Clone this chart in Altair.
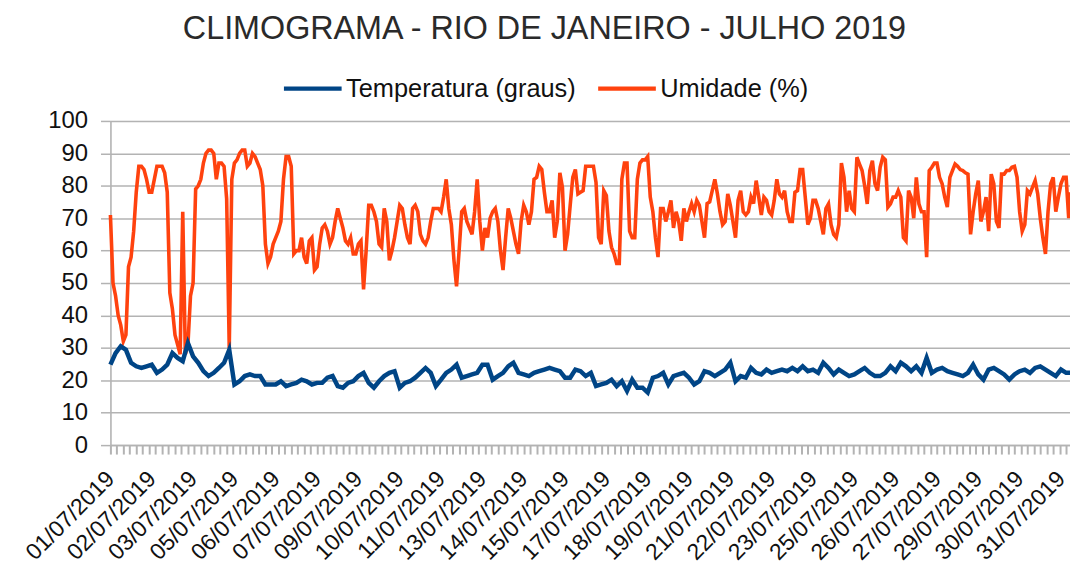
import json
import altair as alt
import pandas as pd

# hour indices (categories) of the sampled readings, July 2019 hourly series
horas_temperatura = list(range(0, 744, 4)) + [743]
horas_umidade = list(range(0, 744, 2)) + [743]

temperatura = [
    24.8, 28.4, 30.5, 29.4, 25.4, 24.3, 23.8, 24.3, 24.8, 22.3, 23.3, 24.8, 28.4, 26.9, 25.9, 31.5,
    27.4, 25.4, 22.8, 21.3, 22.3, 23.8, 25.4, 29.4, 18.7, 19.7, 21.3, 21.8, 21.3, 21.3, 18.7, 18.7,
    18.7, 19.7, 18.2, 18.7, 19.2, 20.2, 19.7, 18.7, 19.2, 19.2, 20.8, 21.3, 18.2, 17.7, 19.2,
    19.7, 21.3, 22.3, 19.2, 17.7, 19.7, 21.3, 22.3, 22.8, 17.7, 19.2, 19.7, 20.8, 22.3, 23.8, 22.3,
    18.2, 20.2, 22.3, 23.3, 24.8, 20.8, 21.3, 21.8, 22.3, 24.8, 24.8, 20.2, 21.3, 22.3, 24.3, 25.4,
    22.3, 21.8, 21.3, 22.3, 22.8, 23.3, 23.8, 23.3, 22.8, 20.8, 20.8, 23.3, 22.8, 21.3,
    22.3, 18.2, 18.7, 19.2, 20.2, 18.2, 19.7, 16.7, 20.2, 17.7, 17.7, 16.2, 20.8, 21.3, 22.3, 18.7,
    21.3, 21.8, 22.3, 20.8, 18.7, 19.7, 22.8, 22.3, 21.3, 22.3, 23.3, 25.4, 19.7, 21.3, 20.8, 23.8,
    22.3, 21.8, 23.3, 22.3, 22.8, 23.3, 22.8, 23.8, 22.8, 24.3, 22.8, 23.3, 22.3, 25.4,
    23.8, 21.8, 23.3, 22.3, 21.3, 21.8, 22.8, 23.8, 22.3, 21.3, 21.3, 22.3, 24.3, 22.8, 25.4, 24.3,
    22.8, 24.3, 22.3, 26.9, 22.3, 23.3, 23.8, 22.8, 22.3, 21.8, 21.3, 22.3, 24.8, 21.8, 20.2, 23.3,
    23.8, 22.8, 21.8, 20.2, 21.8, 22.8, 23.3, 22.3, 23.8, 24.3, 23.3, 22.3, 21.3, 23.3, 22.3,
    22.3,
]

umidade = [
    71, 50, 46, 40, 37, 32, 34, 55, 58, 66,
    78, 86, 86, 85, 82, 78, 78, 82, 86, 86,
    86, 84, 78, 47, 42, 34, 31, 28, 72, 28,
    31, 46, 50, 79, 80, 82, 87, 90, 91, 91,
    90, 82, 87, 87, 86, 76, 30, 82, 87, 88,
    90, 91, 91, 86, 87, 90, 89, 87, 85, 80,
    62, 56, 58, 62, 64, 66, 69, 82, 89, 89,
    86, 59, 60, 60, 64, 58, 56, 63, 64, 54,
    55, 62, 67, 68, 66, 62, 64, 69, 73, 70,
    67, 63, 62, 64, 59, 59, 62, 63, 48, 60,
    74, 74, 72, 69, 62, 61, 73, 69, 57, 60,
    64, 69, 74, 73, 68, 64, 62, 73, 74, 72,
    65, 63, 62, 64, 69, 73, 73, 73, 72, 76.5,
    82, 73, 68, 57, 49, 60, 72, 73, 69, 67,
    65, 72, 82, 69, 60, 67, 64, 70, 72, 73,
    69, 60, 54, 64, 73, 70, 66, 62, 59, 69,
    74, 72, 68, 72, 82, 82.6, 86, 85, 78, 72,
    72, 75.5, 64, 69, 84, 79.5, 60, 65, 74, 82.6,
    85, 77.5, 78, 78.5, 86, 86, 86, 86, 81, 64,
    62, 78.5, 77, 66, 61, 59, 56, 56, 82, 87,
    87, 66, 64, 64, 82, 87, 88, 88, 89, 76.5,
    72, 64, 58, 73, 73, 69, 72, 75.5, 67, 72,
    69, 63, 73, 69, 72, 74.5, 72, 75.5, 74, 69,
    64, 74.5, 75, 78.5, 82, 77.5, 72, 68, 69, 77.5,
    74, 69, 64, 75.5, 78.5, 72, 71, 72, 76.5, 74.5,
    81.6, 76.5, 71, 76.5, 75.5, 72, 71, 75.5, 82, 77.5,
    76.5, 78.5, 72, 69, 69, 78, 78.5, 85, 85, 76.5,
    68, 70, 75.5, 75.5, 73, 69, 65, 73, 74.4, 68,
    65, 64, 68, 87, 82.6, 72, 78.5, 73, 72, 88.8,
    86.7, 84.7, 80, 74.4, 84.7, 87.7, 80.6, 78.5, 85.7, 88.8,
    88, 73.4, 74.4, 76.5, 76.5, 78.5, 76.5, 64, 63, 78.5,
    76.5, 70, 82.6, 74.4, 72, 72, 58, 84.7, 85.7, 87,
    87, 82.6, 80.6, 76.5, 73.4, 82.6, 84.7, 86.7, 86, 85,
    84.7, 84, 83.6, 65, 72, 77.5, 81.6, 69, 72, 76.5,
    66, 83.6, 80.6, 69, 67, 83.6, 83.6, 84.7, 84.7, 85.7,
    86, 82.6, 72, 66, 68, 78.5, 77.5, 79.6, 81.6, 77.5,
    70, 64, 59, 72, 80.6, 82.6, 72, 76.5, 80.6, 82.6,
    82.6, 70,
    78,
]

series = ["Temperatura (graus)", "Umidade (%)"]
cores = ["#004586", "#ff420e"]

rotulos_datas = [
    "01/07/2019", "02/07/2019", "03/07/2019", "05/07/2019", "06/07/2019", "07/07/2019",
    "09/07/2019", "10/07/2019", "11/07/2019", "13/07/2019", "14/07/2019", "15/07/2019",
    "17/07/2019", "18/07/2019", "19/07/2019", "21/07/2019", "22/07/2019", "23/07/2019",
    "25/07/2019", "26/07/2019", "27/07/2019", "29/07/2019", "30/07/2019", "31/07/2019",
]
intervalo_rotulos = 32
horas_rotulos = [intervalo_rotulos * i for i in range(len(rotulos_datas))]
horas_ticks = list(range(0, 744, 5))
valores_y = list(range(0, 101, 10))

df_t = pd.DataFrame({"h": horas_temperatura, "valor": temperatura, "serie": series[0]})
df_u = pd.DataFrame({"h": horas_umidade, "valor": umidade, "serie": series[1]})

FONTE = "Liberation Sans"
CINZA = "#b3b3b3"

escala_x = alt.Scale(domain=[0, 743], nice=False, zero=False)
escala_y = alt.Scale(domain=[0, 100], nice=False)
escala_cor = alt.Scale(domain=series, range=cores)

eixo_y = alt.Axis(
    values=valores_y, title=None, tickSize=10, tickColor=CINZA, tickWidth=1.5,
    domainColor=CINZA, domainWidth=1.5, gridColor=CINZA, gridWidth=1.5,
    labelFontSize=24, labelFont=FONTE, labelColor="#111", labelPadding=13,
)
eixo_ticks = alt.Axis(
    values=horas_ticks, labels=False, title=None, tickSize=9, tickWidth=2,
    tickColor=CINZA, domainColor=CINZA, domainWidth=1.5, grid=False, orient="bottom",
)
label_expr = json.dumps(rotulos_datas) + "[round(datum.value / %d)]" % intervalo_rotulos
eixo_rotulos = alt.Axis(
    values=horas_rotulos, ticks=False, domain=False, grid=False, title=None,
    labelAngle=-45, labelAlign="right", labelBaseline="middle", labelPadding=30,
    labelFontSize=23, labelFont=FONTE, labelColor="#111", labelExpr=label_expr,
    labelOverlap=False, orient="bottom", labelBound=False,
)

legenda = alt.Legend(
    title=None, orient="none", legendX=172, legendY=-64, direction="horizontal",
    symbolType="stroke", symbolSize=3364, symbolStrokeWidth=4.5, labelFontSize=25.5,
    labelFont=FONTE, labelColor="#111", labelOffset=2, columnPadding=12, labelLimit=0,
)

umid = alt.Chart(df_u).mark_line(strokeWidth=3.6).encode(
    x=alt.X("h:Q", scale=escala_x, axis=eixo_ticks),
    y=alt.Y("valor:Q", scale=escala_y, axis=eixo_y),
    color=alt.Color("serie:N", scale=escala_cor, legend=legenda),
)
temp = alt.Chart(df_t).mark_line(strokeWidth=4.5).encode(
    x=alt.X("h:Q", scale=escala_x, axis=None),
    y=alt.Y("valor:Q", scale=escala_y, axis=eixo_y),
    color=alt.Color("serie:N", scale=escala_cor, legend=legenda),
)
rot = alt.Chart(df_t).mark_line(opacity=0).encode(
    x=alt.X("h:Q", scale=escala_x, axis=eixo_rotulos),
    y=alt.Y("valor:Q", scale=escala_y, axis=eixo_y),
)

chart = (
    alt.layer(umid, temp, rot)
    .resolve_axis(x="independent")
    .properties(
        width=965,
        height=326,
        autosize=alt.AutoSizeParams(type="none"),
        padding={"left": 103, "top": 112, "right": 0, "bottom": 120},
        title=alt.TitleParams(
            "CLIMOGRAMA - RIO DE JANEIRO - JULHO 2019", fontSize=32.5, font=FONTE,
            fontWeight="normal", color="#2a2a2a", anchor="middle", frame="group",
            dx=-46, offset=12,
        ),
    )
    .configure_view(stroke=None)
    .configure(background="white")
)

chart.save("out.html", embed_options={"renderer": "svg", "actions": False})
